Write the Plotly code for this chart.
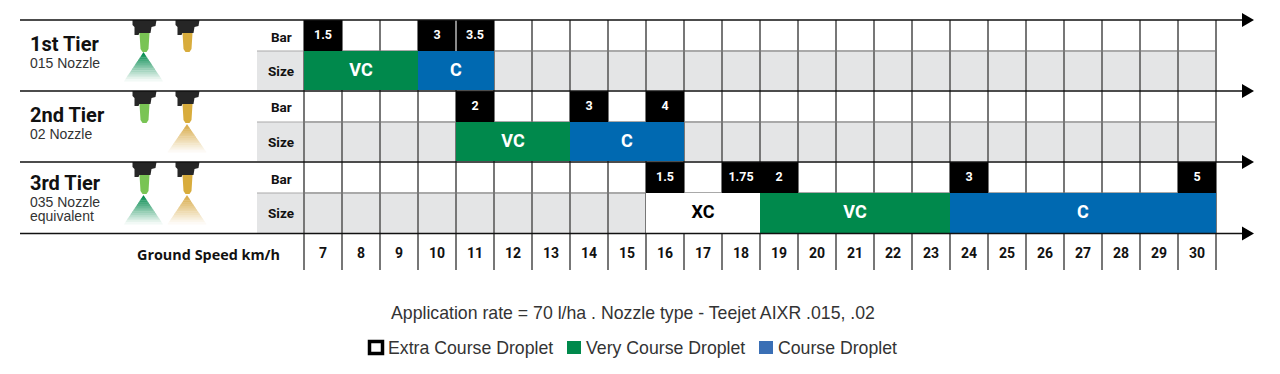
import plotly.graph_objects as go

# ---- data ----
speeds = list(range(7, 31))
tiers = ["1st Tier", "2nd Tier", "3rd Tier"]
tier_notes = [["015 Nozzle"], ["02 Nozzle"], ["035 Nozzle", "equivalent"]]
bar_speeds = [[7, 10, 11], [11, 14, 16], [16, 18, 19, 24, 30]]
bar_labels = [["1.5", "3", "3.5"], ["2", "3", "4"], ["1.5", "1.75", "2", "3", "5"]]
size_labels = [["VC", "C"], ["VC", "C"], ["XC", "VC", "C"]]
size_from = [[7, 10], [11, 14], [16, 19, 24]]
size_to = [[9, 11], [13, 16], [18, 23, 30]]
axis_title = "Ground Speed km/h"
note = "Application rate = 70 l/ha . Nozzle type - Teejet AIXR .015, .02"
legend_names = ["Extra Course Droplet", "Very Course Droplet", "Course Droplet"]

# ---- style ----
W, H = 1280, 374
COL = 38
FIRST_CENTER = 323
GRAY = "#e4e5e6"
GRID = "#777777"
SOFT = "#a9a9a9"
GREEN = "#00894c"
BLUE = "#0069b1"
GOLD = (216, 170, 70)
GREENRGB = (0, 137, 76)
TXT = "#333333"
HEAD = "Roboto"
BODY = "Liberation Sans"
FILL = {"VC": GREEN, "C": BLUE, "XC": "#ffffff"}
TEXTC = {"VC": "white", "C": "white", "XC": "black"}
ROW_TOP = [20, 91, 162]
BAR_H = 31
SIZE_H = [39, 39, 40]
LINES_Y = [20, 91, 162, 233.5]
AXIS_BOTTOM = 270
x0 = speeds[0] - FIRST_CENTER / COL
edges = [s - 0.5 for s in speeds] + [speeds[-1] + 0.5]
HAIR = 1 / COL


def px(x):
    return x / W


def py(y):
    return 1 - y / H


fig = go.Figure()


def band(xs, widths, top, height, color):
    fig.add_bar(x=xs, y=[height] * len(xs), base=[top] * len(xs), width=widths,
                marker=dict(color=color, line=dict(width=0)), hoverinfo="skip")


# grey size rows, hairlines, then the coloured cells on top
span_mid = (edges[0] + edges[-1]) / 2
span_w = edges[-1] - edges[0]
for i in range(3):
    band([span_mid], [span_w], ROW_TOP[i] + BAR_H, SIZE_H[i], GRAY)
    band([span_mid], [span_w], ROW_TOP[i] + BAR_H - 0.5, 1, SOFT)
band(edges, [HAIR] * len(edges), LINES_Y[0], AXIS_BOTTOM - LINES_Y[0], GRID)

for i in range(3):
    top = ROW_TOP[i]
    size_top = top + BAR_H
    band(bar_speeds[i], [1] * len(bar_speeds[i]), top, BAR_H, "black")
    if i == 0:
        inner = [a + 0.5 for a, b in zip(bar_speeds[i], bar_speeds[i][1:]) if b == a + 1]
        band(inner, [HAIR] * len(inner), top, BAR_H, "#8a8a8a")
    for lab, a, b in zip(size_labels[i], size_from[i], size_to[i]):
        band([(a + b) / 2], [b - a + 1], size_top, SIZE_H[i], FILL[lab])
    fig.add_scatter(x=bar_speeds[i], y=[top + BAR_H / 2 + 0.5] * len(bar_speeds[i]), mode="text",
                    text=bar_labels[i], textposition="middle center",
                    textfont=dict(family=HEAD, size=12.5, color="white", weight=700), hoverinfo="skip")
    for lab, a, b in zip(size_labels[i], size_from[i], size_to[i]):
        fig.add_scatter(x=[(a + b) / 2], y=[size_top + SIZE_H[i] / 2 + 0.5], mode="text", text=[lab],
                        textposition="middle center",
                        textfont=dict(family=HEAD, size=18, color=TEXTC[lab], weight=700), hoverinfo="skip")

# speed labels
fig.add_scatter(x=speeds, y=[254.5] * len(speeds), mode="text", text=[str(s) for s in speeds],
                textposition="middle center",
                textfont=dict(family=HEAD, size=14, color="#111111", weight=700), hoverinfo="skip")

shapes = []
ann = []


def path(points):
    return "M" + " L".join(f"{px(a):.5f},{py(b):.5f}" for a, b in points) + " Z"


def poly(points, color, layer="above"):
    shapes.append(dict(type="path", xref="paper", yref="paper", path=path(points),
                       fillcolor=color, line=dict(width=0), layer=layer))


def text(x, y, s, size, fam=BODY, color=TXT, anchor="left", weight=400):
    ann.append(dict(x=px(x), y=py(y), xref="paper", yref="paper", text=s, showarrow=False,
                    xanchor=anchor, yanchor="middle", font=dict(family=fam, size=size, color=color, weight=weight)))


def nozzle(cx, top, rgb):
    c = "#%02x%02x%02x" % rgb
    poly([(cx - 12, top), (cx + 12, top), (cx + 11, top + 6), (cx + 7, top + 7), (cx + 6, top + 13),
          (cx - 5, top + 13), (cx - 6, top + 15), (cx - 10, top + 15), (cx - 10, top + 7), (cx - 12, top + 5)], "#262626")
    poly([(cx - 5, top + 13), (cx + 5, top + 13), (cx + 4, top + 29), (cx + 2, top + 32), (cx - 2, top + 32), (cx - 4, top + 29)], c)


def fan(cx, apex, base, rgb):
    n = 16
    half = 19.5
    h = base - apex
    for k in range(n):
        t0, t1 = k / n, (k + 1) / n
        a = (1 - t0) ** 1.1
        col = tuple(int(255 - (255 - v) * a) for v in rgb)
        poly([(cx - half * t0, apex + h * t0), (cx + half * t0, apex + h * t0),
              (cx + half * t1, apex + h * t1 + 0.4), (cx - half * t1, apex + h * t1 + 0.4)],
             "rgb(%d,%d,%d)" % col)


LIGHT_GREEN = (121, 196, 84)
GOLD_TIP = (216, 172, 60)
for y in ROW_TOP:
    nozzle(144.5, y, LIGHT_GREEN)
    nozzle(187.5, y, GOLD_TIP)
fan(143.5, 52, 81, GREENRGB)
fan(187, 124, 152, GOLD)
fan(143.5, 195, 224, GREENRGB)
fan(187, 195, 224, GOLD)

# label cells and tier rules
for i in range(3):
    st = ROW_TOP[i] + BAR_H
    poly([(257, st), (304, st), (304, st + SIZE_H[i]), (257, st + SIZE_H[i])], GRAY, "below")
    shapes.append(dict(type="line", xref="paper", yref="paper", x0=px(257), x1=px(304), y0=py(st), y1=py(st),
                       line=dict(color=SOFT, width=1), layer="below"))
    text(281, ROW_TOP[i] + BAR_H / 2 + 1, "Bar", 13.5, HEAD, "#111111", "center", 700)
    text(281, st + SIZE_H[i] / 2 + 0.5, "Size", 13.5, HEAD, "#111111", "center", 700)

for y in LINES_Y:
    shapes.append(dict(type="line", xref="paper", yref="paper", x0=px(20), x1=px(1244), y0=py(y), y1=py(y),
                       line=dict(color="#111111", width=1.6), layer="above"))
    poly([(1242, y - 7), (1254, y), (1242, y + 7)], "black")

# tier labels
tier_y = [44, 115, 183]
note_y = [[63], [134], [202, 216]]
for i, t in enumerate(tiers):
    text(28, tier_y[i], t, 20, HEAD, "#111111", "left", 700)
    for y, s in zip(note_y[i], tier_notes[i]):
        text(28, y, s, 14, BODY, TXT)

text(282, 254.5, axis_title, 14.4, "Open Sans", "#111111", "right", 700)
text(633, 313, note, 17.7, BODY, TXT, "center")

# legend
shapes.append(dict(type="rect", xref="paper", yref="paper", x0=px(369.5), x1=px(382.5), y0=py(341.5), y1=py(353.5),
                   line=dict(color="black", width=3.5), fillcolor="white"))
poly([(567, 341), (581, 341), (581, 354), (567, 354)], "#00894c")
poly([(759, 341), (773, 341), (773, 354), (759, 354)], "#3a6fb5")
for x, s in zip([386, 584, 776], legend_names):
    text(x, 347.5, s, 17.7, BODY, TXT)

fig.update_layout(
    width=W, height=H, margin=dict(l=0, r=0, t=0, b=0, pad=0),
    paper_bgcolor="white", plot_bgcolor="white", showlegend=False, barmode="overlay",
    xaxis=dict(range=[x0, x0 + W / COL], visible=False, fixedrange=True),
    yaxis=dict(range=[H, 0], visible=False, fixedrange=True),
    shapes=shapes, annotations=ann,
)
fig.write_html("out.html", config={"displayModeBar": False},
               post_script="document.body.style.margin='0';document.body.style.overflow='hidden';")
